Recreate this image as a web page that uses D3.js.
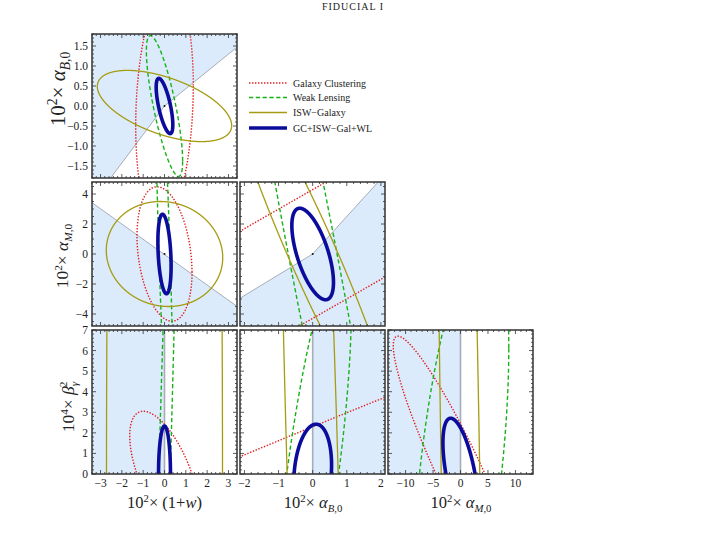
<!DOCTYPE html>
<html>
<head>
<meta charset="utf-8">
<script src="https://cdn.jsdelivr.net/npm/d3@7"></script>
<style>
  body { margin: 0; background: #fff; }
  text { font-family: "Liberation Serif", "Times New Roman", serif; fill: #222; }
</style>
</head>
<body>
<script>
const W = 707, H = 533;

// probes, in drawing order
const probes = ["Galaxy Clustering", "Weak Lensing", "ISW\u2212Galaxy", "GC+ISW\u2212Gal+WL"];
const probeColors = ["#e21b1b", "#17b217", "#a59c12", "#0b0b9c"];
const probeWidths = [1.4, 1.4, 1.3, 3.6];
const probeDash = ["1.4,1.6", "4.2,2.6", null, null];

// axis ranges
const wRange = [-3.4, 3.4];
const aBxRange = [-2.13, 2.12];
const aMxRange = [-13.2, 13.2];
const aByRange = [-1.8, 1.8];
const aMyRange = [-4.8, 4.8];
const betaRange = [0, 7];

// tick values
const wTicks = [-3, -2, -1, 0, 1, 2, 3];
const aBxTicks = [-2, -1, 0, 1, 2];
const aMxTicks = [-10, -5, 0, 5, 10];
const aByTicks = [-1.5, -1.0, -0.5, 0.0, 0.5, 1.0, 1.5];
const aMyTicks = [-4, -2, 0, 2, 4];
const betaTicks = [0, 1, 2, 3, 4, 5, 6, 7];

// 1-sigma contours per panel: [sigma_x, sigma_y, correlation], probe order
const ellWaB = [[1.35, 3.0, 0.17], [0.85, 1.76, -0.78], [3.15, 0.89, -0.55], [0.39, 0.69, -0.68]];
const ellWaM = [[1.29, 4.48, -0.27], [0.425, 15, -0.79], [2.73, 3.5, -0.07], [0.31, 2.65, -0.3]];
const ellaBaM = [[20, 26.2, 0.9865], [2.62, 30, -0.962], [2.41, 12, -0.95], [0.61, 3.05, -0.62]];
const ellWbeta = [[1.63, 3.05, -0.61], [0.733, 25, 0.93], [2.72, 60, 0], [0.28, 2.33, 0.0]];
const ellaBbeta = [[20, 13.8, 0.986], [1.13, 10.6, 0.74], [1.02, 40, -0.68], [0.554, 2.42, 0.18]];
const ellaMbeta = [[12.24, 6.7, -0.931], [8.79, 11.6, 0.528], [4.27, 40, -0.57], [3.2, 2.71, -0.56]];

// stability boundaries (shaded = stable side)
const edgeWaB = [[-2.6, -1.85], [0, 0], [3.4, 1.47]];
const shadeWaB = [[-3.4, 1.8], [3.4, 1.8], [3.4, 1.47], [0, 0], [-2.6, -1.85], [-3.4, -1.85]];
const edgeWaM = [[-3.4, 3.42], [3.4, -3.49]];
const shadeWaM = [[-3.4, 3.42], [3.4, -3.49], [3.4, -4.8], [-3.4, -4.8]];
const edgeaBaM = [[-2.13, -2.95], [0, 0], [1.92, 4.8]];
const shadeaBaM = [[-2.13, -2.95], [0, 0], [1.92, 4.8], [2.12, 4.8], [2.12, -4.8], [-2.13, -4.8]];
const edgeWbeta = [[0, 0], [0, 7]];
const shadeWbeta = [[-3.4, 0], [0, 0], [0, 7], [-3.4, 7]];
const edgeaBbeta = [[0, 0], [0, 7]];
const shadeaBbeta = [[0, 0], [2.12, 0], [2.12, 7], [0, 7]];
const edgeaMbeta = [[0, 0], [0, 7]];
const shadeaMbeta = [[-13.2, 0], [0, 0], [0, 7], [-13.2, 7]];

const svg = d3.select("body").append("svg")
    .attr("width", W).attr("height", H)
    .style("display", "block");
const defs = svg.append("defs");

const colX = [92, 240, 388], rowY = [34, 182, 330];
const PW = 145, PH = 144;

const colAxes = [
  { dom: wRange, ticks: wTicks, minor: 0.2, fmt: d3.format("d") },
  { dom: aBxRange, ticks: aBxTicks, minor: 0.2, fmt: d3.format("d") },
  { dom: aMxRange, ticks: aMxTicks, minor: 1, fmt: d3.format("d") }
];
const rowAxes = [
  { dom: aByRange, ticks: aByTicks, minor: 0.1, fmt: d3.format(".1f") },
  { dom: aMyRange, ticks: aMyTicks, minor: 0.5, fmt: d3.format("d") },
  { dom: betaRange, ticks: betaTicks, minor: 0.2, fmt: d3.format("d") }
];

const cells = [
  { row: 0, col: 0, ell: ellWaB, shade: shadeWaB, edge: edgeWaB, dot: true },
  { row: 1, col: 0, ell: ellWaM, shade: shadeWaM, edge: edgeWaM, dot: true },
  { row: 1, col: 1, ell: ellaBaM, shade: shadeaBaM, edge: edgeaBaM, dot: true },
  { row: 2, col: 0, ell: ellWbeta, shade: shadeWbeta, edge: edgeWbeta, dot: false },
  { row: 2, col: 1, ell: ellaBbeta, shade: shadeaBbeta, edge: edgeaBbeta, dot: false },
  { row: 2, col: 2, ell: ellaMbeta, shade: shadeaMbeta, edge: edgeaMbeta, dot: false }
];

// ellipse outline from sigma_x, sigma_y, rho
const N = 2400;
function ellipsePts([sx, sy, r]) {
  const c = Math.sqrt(1 - r * r);
  return d3.range(N + 1).map(i => {
    const t = 2 * Math.PI * i / N;
    return [sx * Math.cos(t), sy * (r * Math.cos(t) + c * Math.sin(t))];
  });
}

function minorTicks(dom, step) {
  const out = [];
  const a = Math.ceil(dom[0] / step - 1e-6), b = Math.floor(dom[1] / step + 1e-6);
  for (let k = a; k <= b; k++) out.push(+(k * step).toFixed(6));
  return out;
}

cells.forEach((c, i) => {
  const xa = colAxes[c.col], ya = rowAxes[c.row];
  const x = d3.scaleLinear().domain(xa.dom).range([0, PW]);
  const y = d3.scaleLinear().domain(ya.dom).range([PH, 0]);
  const line = d3.line().x(d => x(d[0])).y(d => y(d[1]));

  defs.append("clipPath").attr("id", "clip" + i)
    .append("rect").attr("width", PW).attr("height", PH);

  const g = svg.append("g").attr("transform", `translate(${colX[c.col]},${rowY[c.row]})`);
  const inner = g.append("g").attr("clip-path", `url(#clip${i})`);

  inner.append("path").attr("d", line(c.shade) + "Z")
    .attr("fill", "#dcebfb").attr("stroke", "none");
  inner.append("path").attr("d", line(c.edge))
    .attr("fill", "none").attr("stroke", "#a6adb8")
    .attr("stroke-width", c.row === 2 ? 1.6 : 1);

  c.ell.forEach((e, k) => {
    inner.append("path").attr("d", line(ellipsePts(e)))
      .attr("fill", "none")
      .attr("stroke", probeColors[k])
      .attr("stroke-width", probeWidths[k])
      .attr("stroke-dasharray", probeDash[k]);
  });

  if (c.dot) {
    inner.append("circle").attr("cx", x(0)).attr("cy", y(0)).attr("r", 1).attr("fill", "#111");
  }

  // ticks on all four sides, pointing in
  const tk = g.append("g").attr("stroke", "#333").attr("stroke-width", 0.8);
  const xMin = minorTicks(xa.dom, xa.minor), yMin = minorTicks(ya.dom, ya.minor);
  xMin.forEach(v => {
    const len = xa.ticks.some(t => Math.abs(t - v) < 1e-6) ? 4 : 2;
    tk.append("line").attr("x1", x(v)).attr("x2", x(v)).attr("y1", PH).attr("y2", PH - len);
    tk.append("line").attr("x1", x(v)).attr("x2", x(v)).attr("y1", 0).attr("y2", len);
  });
  yMin.forEach(v => {
    const len = ya.ticks.some(t => Math.abs(t - v) < 1e-6) ? 4 : 2;
    tk.append("line").attr("y1", y(v)).attr("y2", y(v)).attr("x1", 0).attr("x2", len);
    tk.append("line").attr("y1", y(v)).attr("y2", y(v)).attr("x1", PW).attr("x2", PW - len);
  });

  g.append("rect").attr("width", PW).attr("height", PH)
    .attr("fill", "none").attr("stroke", "#333").attr("stroke-width", 1.5);

  if (c.col === 0) {
    g.selectAll(".ylab").data(ya.ticks).join("text")
      .attr("x", -4).attr("y", d => y(d) + 4)
      .attr("text-anchor", "end").attr("font-size", 11.5)
      .text(d => ya.fmt(d));
  }
  if (c.row === 2) {
    g.selectAll(".xlab").data(xa.ticks).join("text")
      .attr("x", d => x(d)).attr("y", PH + 13)
      .attr("text-anchor", "middle").attr("font-size", 11.5)
      .text(d => xa.fmt(d));
  }
});

// rich axis titles built from pieces; dy/dx in px of the base font
function richLabel(sel, parts, fs) {
  parts.forEach(p => {
    const ts = sel.append("tspan").text(p.t);
    if (p.it) ts.attr("font-style", "italic");
    if (p.dy) ts.attr("dy", p.dy * fs);
    if (p.dx) ts.attr("dx", p.dx * fs);
    if (p.s) ts.attr("font-size", p.s * fs);
  });
}
const labW = [{ t: "10" }, { t: "2", dy: -0.36, s: 0.65 }, { t: "\u00d7 (1+", dy: 0.36 }, { t: "w", it: true }, { t: ")" }];
const labAB = [{ t: "10" }, { t: "2", dy: -0.36, s: 0.65 }, { t: "\u00d7 ", dy: 0.36 }, { t: "\u03b1", it: true },
  { t: "B", it: true, dy: 0.24, s: 0.65 }, { t: ",0", s: 0.65 }];
const labAM = [{ t: "10" }, { t: "2", dy: -0.36, s: 0.65 }, { t: "\u00d7 ", dy: 0.36 }, { t: "\u03b1", it: true },
  { t: "M", it: true, dy: 0.24, s: 0.65 }, { t: ",0", s: 0.65 }];
const labBeta = [{ t: "10" }, { t: "4", dy: -0.36, s: 0.65 }, { t: "\u00d7 ", dy: 0.36 }, { t: "\u03b2", it: true },
  { t: "\u03b3", it: true, dy: 0.24, s: 0.65 }, { t: "2", dx: -0.32, dy: -0.62, s: 0.65 }];

const xTitles = [[labW, 164.5], [labAB, 313], [labAM, 461]];
xTitles.forEach(([parts, cx]) => {
  richLabel(svg.append("text").attr("x", cx).attr("y", 508)
    .attr("text-anchor", "middle").attr("font-size", 16.5), parts, 16.5);
});
const yTitles = [[labAB, 64.5, 89, 21], [labAM, 68, 256, 17.5], [labBeta, 74, 407, 17.5]];
yTitles.forEach(([parts, bx, cy, fs]) => {
  richLabel(svg.append("text").attr("transform", `translate(${bx},${cy}) rotate(-90)`)
    .attr("text-anchor", "middle").attr("font-size", fs), parts, fs);
});

// legend
const legend = svg.append("g").attr("transform", "translate(249,83)");
probes.forEach((p, k) => {
  const yy = [0, 14.5, 29.5, 45][k];
  legend.append("line").attr("x1", 0).attr("x2", 38).attr("y1", yy).attr("y2", yy)
    .attr("stroke", probeColors[k]).attr("stroke-width", k === 3 ? 3.6 : 1.4)
    .attr("stroke-dasharray", probeDash[k]);
  legend.append("text").attr("x", 44).attr("y", yy + 3.5).attr("font-size", 10).text(p);
});

svg.append("text").attr("x", 353).attr("y", 10).attr("text-anchor", "middle")
  .attr("font-size", 10).attr("letter-spacing", 1).text("FIDUCIAL I");
</script>
</body>
</html>
